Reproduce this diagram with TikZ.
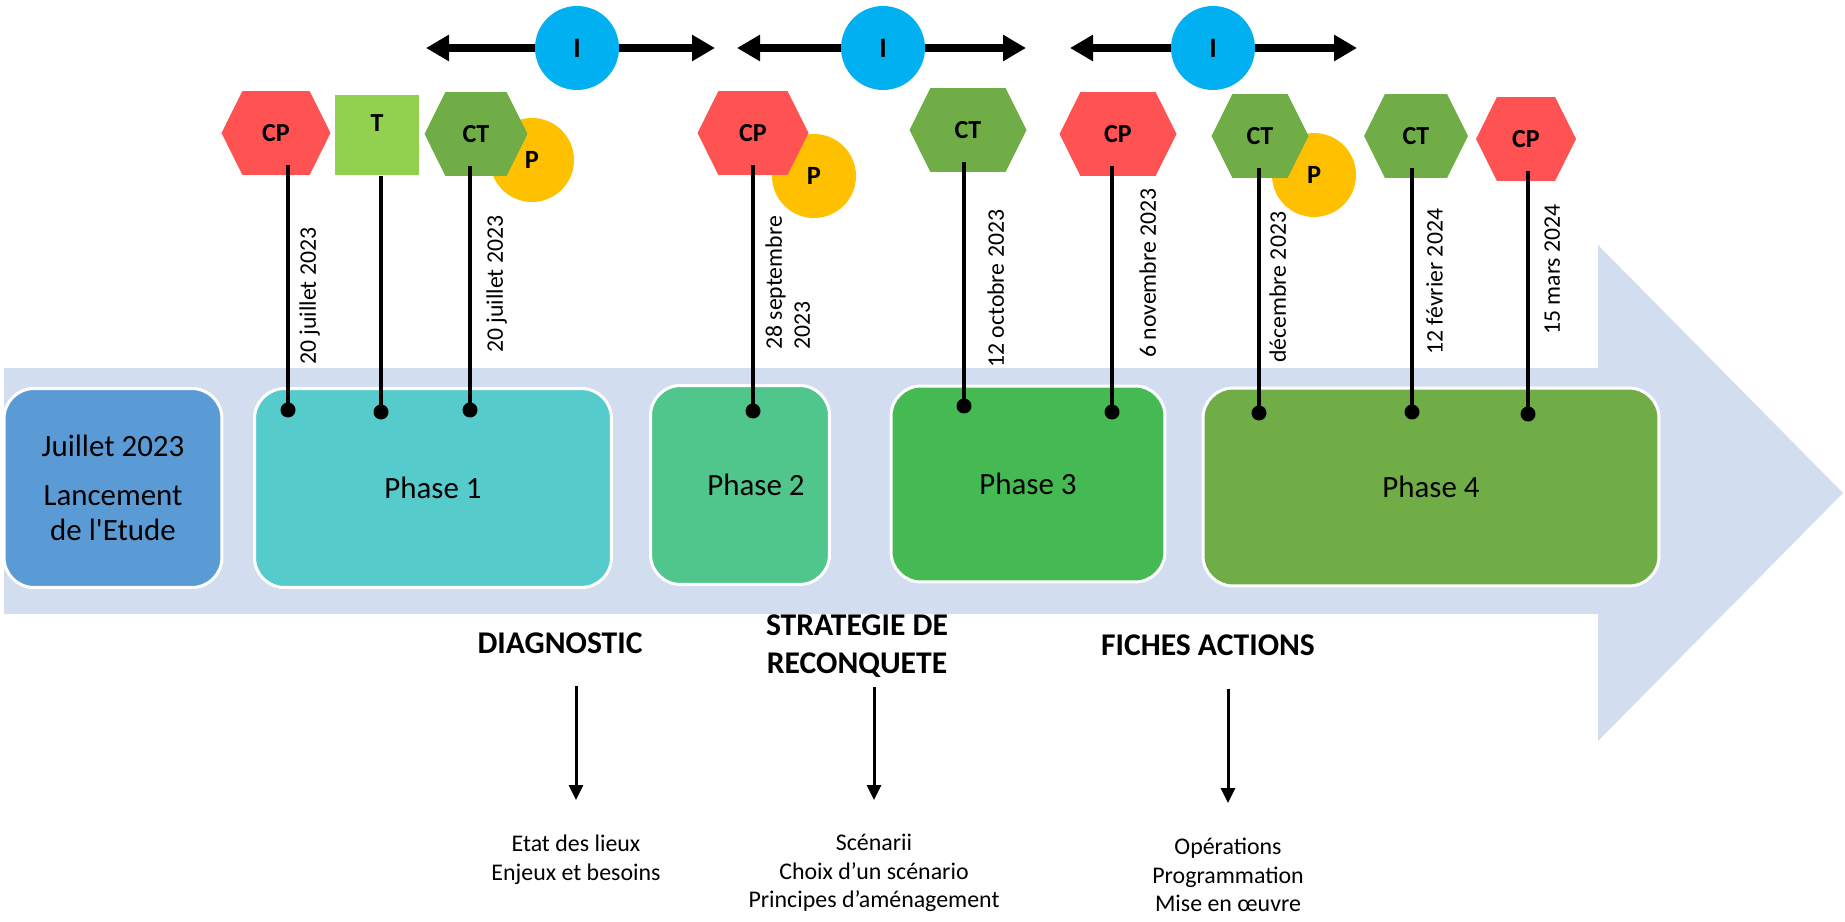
\documentclass[tikz,border=0pt]{standalone}
\usepackage{fontspec}
\setmainfont{Carlito}
\usetikzlibrary{arrows.meta}
\usetikzlibrary{shapes.symbols}
\usetikzlibrary{positioning}
\definecolor{bandblue}{RGB}{210,222,239}
\definecolor{launchblue}{RGB}{91,155,213}
\definecolor{phaseone}{RGB}{86,203,204}
\definecolor{phasetwo}{RGB}{80,198,140}
\definecolor{phasethree}{RGB}{69,186,82}
\definecolor{phasefour}{RGB}{112,173,71}
\definecolor{hexred}{RGB}{255,82,82}
\definecolor{hexgreen}{RGB}{112,173,71}
\definecolor{tgreen}{RGB}{146,208,80}
\definecolor{pyellow}{RGB}{255,192,0}
\definecolor{iblue}{RGB}{0,176,240}
\tikzset{
	phase/.style={draw=white, line width=0.06cm, rounded corners=0.6cm, inner sep=0pt, align=center, font=\fontsize{17.6}{20}\selectfont},
	hexa/.style={signal, signal to=west and east, signal pointer angle=127, minimum height=1.68cm, inner sep=0pt, font=\bfseries\fontsize{14.8}{17}\selectfont},
	hcp/.style={hexa, fill=hexred},
	hct/.style={hexa, fill=hexgreen},
	pcirc/.style={circle, fill=pyellow, minimum size=1.68cm, inner sep=0pt, font=\bfseries\fontsize{15}{17}\selectfont},
	icirc/.style={circle, fill=iblue, minimum size=1.68cm, inner sep=0pt, font=\bfseries\fontsize{16}{18}\selectfont},
	dot/.style={circle, fill=black, inner sep=0pt, minimum size=0.3cm},
	stem/.style={line width=0.08cm},
	datelbl/.style={rotate=90, anchor=north west, inner sep=0pt, align=left, font=\fontsize{13.5}{16}\selectfont},
	span/.style={-{Triangle[length=0.46cm,width=0.5cm]}, line width=0.16cm},
	down/.style={-{Triangle[length=0.3cm,width=0.28cm]}, line width=0.06cm},
	head/.style={inner sep=0pt, align=center, font=\bfseries\fontsize{18}{22}\selectfont},
	note/.style={inner sep=0pt, align=center, font=\fontsize{13.6}{16.2}\selectfont}
}
\begin{document}
\begin{tikzpicture}[x=0.02cm, y=-0.02cm, line join=round]
	\useasboundingbox (0,0) rectangle (1845,922);
	\fill[bandblue] (4,368) -- (1598,368) -- (1598,245) -- (1843,493) -- (1598,741) -- (1598,614) -- (4,614) -- cycle;

	\node[phase, fill=launchblue, minimum width=4.36cm, minimum height=3.98cm] (launch) at (113,488) {Juillet 2023\\[0.26cm]Lancement\\de l\textquotesingle Etude};
	\node[phase, fill=phaseone, minimum width=7.14cm, minimum height=3.98cm] (ph1) at (433,488) {Phase 1};
	\node[phase, fill=phasetwo, minimum width=3.58cm, minimum height=3.98cm] (ph2) at (740,485) {\hspace*{0.64cm}Phase 2};
	\node[phase, fill=phasethree, minimum width=5.48cm, minimum height=3.92cm] (ph3) at (1028,484) {Phase 3};
	\node[phase, fill=phasefour, minimum width=9.12cm, minimum height=3.96cm] (ph4) at (1431,487) {Phase 4};

	\node[dot] (d1) at (288,410) {};
	\node[dot] (d2) at (381,412) {};
	\node[dot] (d3) at (470,410) {};
	\node[dot] (d4) at (753,411) {};
	\node[dot] (d5) at (964,406) {};
	\node[dot] (d6) at (1112,412) {};
	\node[dot] (d7) at (1259,413) {};
	\node[dot] (d8) at (1412,412) {};
	\node[dot] (d9) at (1528,414) {};

	\node[pcirc] (p1) at (532,160) {P};
	\node[pcirc] (p2) at (814,176) {P};
	\node[pcirc] (p3) at (1314,175) {P};

	\node[hcp, minimum width=2.18cm] (cp1) at (276,133) {CP};
	\node[fill=tgreen, minimum width=1.68cm, minimum height=1.62cm, inner sep=0pt, text depth=0.48cm, font=\bfseries\fontsize{14.8}{17}\selectfont] (tt1) at (377,135) {T};
	\node[hct, minimum width=2.06cm] (ct1) at (476,134) {CT};
	\node[hcp, minimum width=2.22cm] (cp2) at (753,133) {CP};
	\node[hct, minimum width=2.34cm] (ct2) at (968,130) {CT};
	\node[hcp, minimum width=2.34cm] (cp3) at (1118,134) {CP};
	\node[hct, minimum width=1.94cm] (ct3) at (1260,136) {CT};
	\node[hct, minimum width=2.08cm] (ct4) at (1416,136) {CT};
	\node[hcp, minimum width=2.00cm] (cp4) at (1526,139) {CP};

	\foreach \d/\h in {d1/cp1, d3/ct1, d4/cp2, d5/ct2, d6/cp3, d7/ct3, d8/ct4, d9/cp4}
	\draw[stem] (\d.center) -- ([yshift=0.2cm]\d.center |- \h.south);
	\draw[stem] (d2.center) -- (d2.center |- tt1.south);

	\node[datelbl] (dt1) at (299,365) {20 juillet 2023};
	\node[datelbl] (dt2) at (486,353) {20 juillet 2023};
	\node[datelbl] (dt3) at (765,350) {28 septembre\\2023};
	\node[datelbl] (dt4) at (987,368) {12 octobre 2023};
	\node[datelbl] (dt5) at (1139,358) {6 novembre 2023};
	\node[datelbl] (dt6) at (1269,363) {décembre 2023};
	\node[datelbl] (dt7) at (1426,355) {12 février 2024};
	\node[datelbl] (dt8) at (1544,335) {15 mars 2024};

	\node[icirc] (i1) at (577,48) {I};
	\node[icirc] (i2) at (883,48) {I};
	\node[icirc] (i3) at (1213,48) {I};
	\coordinate (i1w) at (426,48);
	\coordinate (i1e) at (715,48);
	\coordinate (i2w) at (737,48);
	\coordinate (i2e) at (1026,48);
	\coordinate (i3w) at (1070,48);
	\coordinate (i3e) at (1357,48);
	\foreach \i in {i1,i2,i3}{
		\draw[span] (\i) -- (\i w);
		\draw[span] (\i) -- (\i e);
	}

	\node[head, anchor=base] (diag) at (560,653) {DIAGNOSTIC};
	\node[head, anchor=north] (strat) at (857,614) {STRATEGIE DE\\RECONQUETE};
	\node[head, anchor=base] (fich) at (1208,655) {FICHES ACTIONS};
	\node[note, anchor=north] (diagtxt) at (576,835) {Etat des lieux\\Enjeux et besoins};
	\node[note, anchor=north] (strattxt) at (874,834) {Scénarii\\Choix d’un scénario\\Principes d’aménagement};
	\node[note, anchor=north] (fichtxt) at (1228,838) {Opérations\\Programmation\\Mise en œuvre};
	\draw[down, shorten <=0.64cm, shorten >=0.7cm] (diagtxt.north |- diag.south) -- (diagtxt.north);
	\draw[down, shorten <=0.18cm, shorten >=0.68cm] (strattxt.north |- strat.south) -- (strattxt.north);
	\draw[down, shorten <=0.66cm, shorten >=0.7cm] (fichtxt.north |- fich.south) -- (fichtxt.north);
\end{tikzpicture}
\end{document}
